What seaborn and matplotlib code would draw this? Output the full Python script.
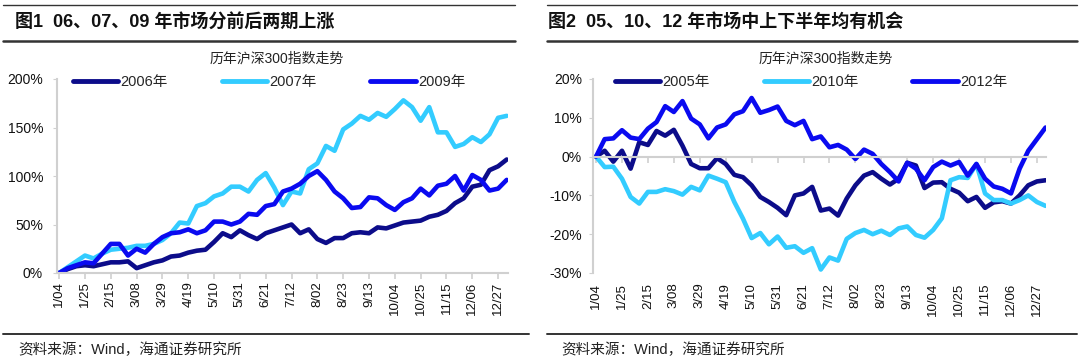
import pandas as pd
import seaborn as sns
import matplotlib.pyplot as plt
from matplotlib.lines import Line2D
from matplotlib.ticker import PercentFormatter

# weekly points, Jan 04 .. Dec 31
weeks = list(range(53))
tick_weeks = list(range(0, 52, 3))
tick_labels = ['1/04', '1/25', '2/15', '3/08', '3/29', '4/19', '5/10', '5/31', '6/21',
               '7/12', '8/02', '8/23', '9/13', '10/04', '10/25', '11/15', '12/06', '12/27']

# panel 1 (%)
y2006 = [0, 4, 7, 8, 7, 9, 11, 11, 12, 5, 8, 11, 13, 17, 18, 21, 23, 24, 32, 41, 37, 44, 39,
         35, 41, 44, 47, 50, 41, 45, 35, 31, 36, 36, 41, 42, 41, 47, 46, 49, 52, 53, 54, 58,
         60, 64, 72, 77, 89, 91, 106, 110, 117]
y2007 = [0, 6, 12, 18, 15, 20, 24, 25, 26, 28, 28, 30, 34, 41, 52, 51, 69, 72, 79, 82, 89, 89,
         84, 96, 103, 88, 70, 84, 82, 107, 113, 131, 126, 148, 154, 162, 158, 165, 161, 169,
         178, 171, 157, 171, 145, 145, 130, 133, 140, 135, 143, 160, 162]
y2009 = [0, 5, 8, 11, 10, 20, 30, 30, 18, 25, 21, 30, 37, 41, 42, 45, 41, 44, 53, 53, 50, 53,
         61, 60, 69, 71, 84, 87, 92, 100, 105, 96, 84, 77, 67, 68, 78, 77, 70, 65, 73, 77, 87,
         80, 90, 92, 100, 85, 101, 96, 85, 87, 96]

# panel 2 (%)
y2005 = [0, 1.5, -1.3, 1.5, -3.1, 3.7, 3.0, 6.6, 5.4, 6.9, 2.8, -1.9, -3.0, -3.0, -0.4, -1.9,
         -4.7, -5.3, -7.4, -10.4, -11.7, -13.2, -15.1, -10.0, -9.5, -7.8, -13.9, -13.4, -15.2,
         -10.8, -7.4, -4.9, -4.0, -5.7, -7.2, -5.7, -1.6, -2.3, -8.1, -6.7, -6.6, -8.3, -9.3,
         -11.5, -10.4, -13.2, -11.8, -11.5, -12.1, -10.0, -7.4, -6.4, -6.1]
y2010 = [0, -2.7, -2.6, -5.7, -10.4, -12.1, -9.1, -9.1, -8.4, -8.9, -9.8, -7.8, -8.7, -4.9,
         -5.7, -6.6, -11.7, -16.0, -21.0, -19.7, -22.6, -20.6, -23.5, -23.1, -24.8, -23.6,
         -29.1, -26.0, -26.8, -21.2, -19.7, -18.9, -20.0, -19.1, -20.2, -18.5, -18.0, -20.2,
         -20.9, -18.9, -15.9, -6.1, -5.3, -5.5, -1.9, -9.5, -11.2, -11.2, -12.1, -11.2, -10.0,
         -11.7, -12.7]
y2012 = [0, 4.5, 4.7, 6.8, 4.9, 4.5, 7.2, 8.9, 13.0, 11.5, 14.3, 9.8, 8.3, 4.7, 7.5, 8.3,
         10.9, 11.7, 15.1, 11.3, 12.0, 12.9, 9.2, 8.1, 9.2, 4.5, 5.2, 2.4, 3.0, 1.8, -0.6, 1.8,
         0.7, -1.9, -4.0, -6.4, -1.6, -3.1, -6.1, -2.7, -1.3, -2.3, -1.4, -4.9, -1.9, -5.7,
         -7.7, -8.3, -9.5, -3.1, 1.5, 4.5, 7.5]

NAVY, CYAN, BLUE = '#0c0c8a', '#33ccff', '#0a0af0'
GRAY = '#d0d0d0'

sns.set_style('white')
plt.rcParams['font.family'] = ['Liberation Sans', 'Noto Sans CJK SC']
plt.rcParams['axes.unicode_minus'] = False

fig = plt.figure(figsize=(10.8, 3.62), dpi=100)
W, H = 1080, 362


def fx(px):
    return px / W


def fy(py):
    return 1 - py / H


def long_df(series):
    rows = []
    for name, vals in series.items():
        for w, v in zip(weeks, vals):
            rows.append((w, v, name))
    return pd.DataFrame(rows, columns=['week', 'value', 'year'])


panels = [
    dict(left=57, right=508, xlim=(-0.25, 52.15), ylim=(0, 200), yticks=range(0, 201, 50),
         series={'2006年': y2006, '2007年': y2007, '2009年': y2009},
         title='图1  06、07、09 年市场分前后两期上涨', tx=15, sub_x=277, leg_x=73,
         rule=(3, 515), foot=(3, 529), src_x=18, ypad=7, zero_axis=False),
    dict(left=593, right=1046, xlim=(-0.35, 52.05), ylim=(-30, 20), yticks=range(-30, 21, 10),
         series={'2005年': y2005, '2010年': y2010, '2012年': y2012},
         title='图2  05、10、12 年市场中上下半年均有机会', tx=548, sub_x=826, leg_x=615,
         rule=(547, 1077), foot=(547, 1077), src_x=561, ypad=5, zero_axis=True),
]

for p in panels:
    ax = fig.add_axes([fx(p['left']), fy(273), fx(p['right'] - p['left']), (273 - 79) / H])
    df = long_df(p['series'])
    sns.lineplot(data=df, x='week', y='value', hue='year',
                 palette=[NAVY, CYAN, BLUE], linewidth=3.3, ax=ax)
    for s in ['top', 'right']:
        ax.spines[s].set_visible(False)
    ax.spines['left'].set_color(GRAY)
    ax.spines['left'].set_linewidth(1.5)
    if p['zero_axis']:
        # category axis crosses at 0, labels stay at the bottom
        ax.spines['bottom'].set_visible(False)
        ax.spines['top'].set_visible(True)
        ax.spines['top'].set_position(('data', 0))
        ax.spines['top'].set_color(GRAY)
        ax.spines['top'].set_linewidth(1.5)
        ax.tick_params(axis='x', top=True, bottom=False, labeltop=False, labelbottom=True,
                       direction='in', length=4, color=GRAY, width=1.2, pad=7)
    else:
        ax.spines['bottom'].set_color(GRAY)
        ax.spines['bottom'].set_linewidth(1.5)
        ax.tick_params(axis='x', bottom=True, direction='out', length=4, color=GRAY,
                       width=1.2, pad=2)

    ax.set_xlim(*p['xlim'])
    ax.set_ylim(*p['ylim'])
    ax.set_xlabel('')
    ax.set_ylabel('')
    ax.set_yticks(list(p['yticks']))
    ax.yaxis.set_major_formatter(PercentFormatter(decimals=0))
    ax.set_xticks(tick_weeks)
    ax.set_xticklabels(tick_labels, fontsize=9.5, color='#111111')
    ax.tick_params(axis='x', labelrotation=90)
    ax.tick_params(axis='y', labelsize=10, labelcolor='#111111', length=3, color=GRAY,
                   pad=p['ypad'], left=True)

    sns.move_legend(ax, 'center left', bbox_to_anchor=(fx(p['leg_x']), fy(82)),
                    bbox_transform=fig.transFigure, ncol=3, frameon=False, title=None,
                    fontsize=10.5, handlelength=3.1, handletextpad=0.15, columnspacing=3.7,
                    borderpad=0, borderaxespad=0)
    for h in ax.get_legend().get_lines():
        h.set_linewidth(3.5)

    # report-style header / footer
    fig.add_artist(Line2D([fx(p['rule'][0]), fx(p['rule'][1])], [fy(5), fy(5)],
                          color='#333333', linewidth=1.0))
    fig.add_artist(Line2D([fx(p['rule'][0]), fx(p['rule'][1])], [fy(41), fy(41)],
                          color='#333333', linewidth=1.8))
    fig.add_artist(Line2D([fx(p['foot'][0]), fx(p['foot'][1])], [fy(334), fy(334)],
                          color='#333333', linewidth=1.4))
    fig.text(fx(p['tx']), fy(22), p['title'], fontsize=13, fontweight='bold',
             color='#111111', va='center', ha='left')
    fig.text(fx(p['sub_x']), fy(59), '历年沪深300指数走势', fontsize=10,
             color='#222222', va='center', ha='center')
    fig.text(fx(p['src_x']), fy(350), '资料来源：Wind，海通证券研究所', fontsize=10.5,
             color='#222222', va='center', ha='left')

fig.savefig('out.png', dpi=100)
